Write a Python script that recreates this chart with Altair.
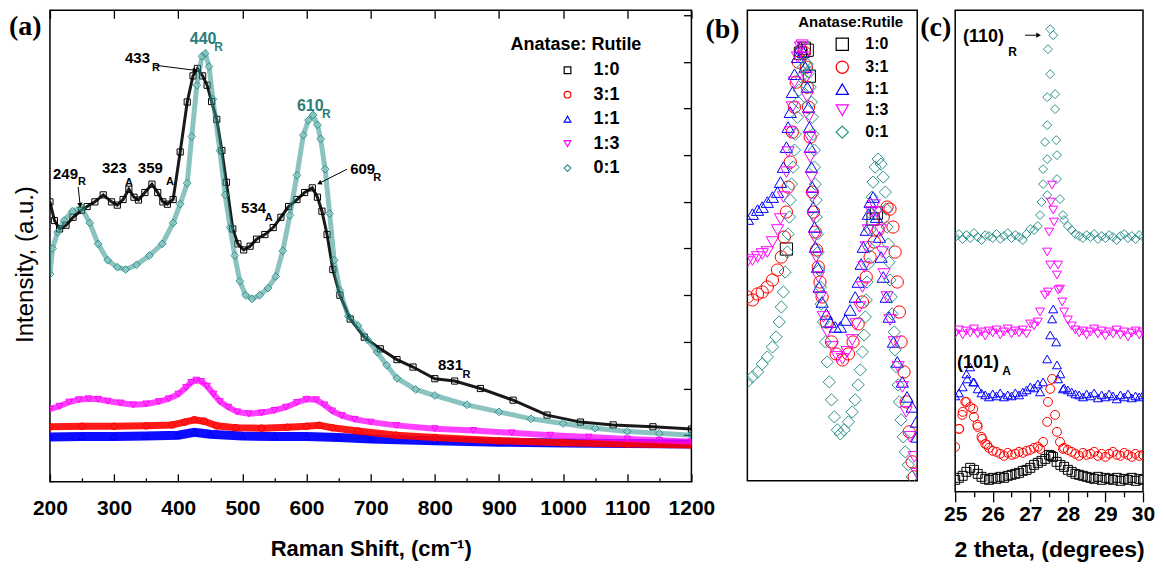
import math
import altair as alt
import pandas as pd

FONT = "Liberation Sans"
SERIF = "Liberation Serif"
SERIES = ["1:0", "3:1", "1:1", "1:3", "0:1"]
COLORS = ["#000000", "#ff0000", "#0000ff", "#ff00ff", "#2a918c"]
SHAPES = ["square", "circle", "triangle-up", "triangle-down", "diamond"]
TEAL_TEXT = "#2c7d79"

# ---------------- panel (a): Raman spectra, a.u. ----------------
A_TICKS = [200, 300, 400, 500, 600, 700, 800, 900, 1000, 1100, 1200]
A_MINOR = [250, 350, 450, 550, 650, 750, 850, 950, 1050, 1150]
A_YTICKS = [1, 2, 3, 4, 5, 6, 7, 8, 9, 10]

A10_X = [200, 207, 215, 225, 236, 249, 258, 270, 283, 296, 305, 314, 323, 331, 338, 348, 359, 368, 376, 383,
         392, 403, 414, 423, 430, 438, 445, 452, 460, 468, 475, 485, 493, 502, 512, 522, 535, 548, 560, 572,
         585, 597, 609, 617, 624, 632, 641, 652, 668, 690, 715, 741, 766, 800, 831, 871, 922, 975, 1027, 1078,
         1140, 1200]
A10_Y = [6.00, 5.60, 5.42, 5.50, 5.67, 5.82, 5.90, 6.00, 6.15, 6.00, 5.93, 6.05, 6.27, 6.10, 6.04, 6.20, 6.38, 6.20, 6.00, 5.95,
         6.05, 7.07, 8.14, 8.70, 8.86, 8.70, 8.50, 8.15, 7.77, 7.10, 6.42, 5.42, 5.10, 4.97, 5.05, 5.20, 5.30, 5.45, 5.67, 5.90,
         6.05, 6.20, 6.30, 6.10, 5.80, 5.30, 4.55, 4.00, 3.49, 3.10, 2.85, 2.62, 2.46, 2.21, 2.16, 2.00, 1.75, 1.43, 1.28, 1.22,
         1.18, 1.13]

A01_X = [200, 204, 212, 222, 235, 249, 262, 275, 290, 305, 318, 335, 355, 375, 392, 403, 414, 421, 429, 437,
         442, 448, 454, 465, 473, 481, 488, 496, 505, 515, 527, 540, 552, 563, 574, 585, 595, 603, 610, 617,
         622, 629, 636, 643, 652, 665, 680, 695, 710, 725, 741, 770, 800, 850, 900, 950, 1000, 1050, 1100, 1150,
         1200]
A01_Y = [4.45, 5.00, 5.35, 5.60, 5.80, 5.88, 5.55, 5.10, 4.75, 4.60, 4.55, 4.65, 4.85, 5.10, 5.55, 5.95, 6.40, 7.40, 8.50, 9.12,
         9.18, 8.90, 8.20, 7.10, 6.15, 5.45, 4.85, 4.30, 4.00, 3.92, 4.00, 4.15, 4.40, 4.95, 5.71, 6.57, 7.43, 7.75, 7.86, 7.65,
         7.35, 6.70, 5.75, 4.75, 4.10, 3.55, 3.35, 3.05, 2.78, 2.50, 2.22, 1.98, 1.85, 1.65, 1.50, 1.35, 1.25, 1.15, 1.08, 1.04,
         1.00]

A13_X = [200, 215, 230, 245, 260, 275, 290, 310, 330, 350, 370, 385, 400, 412, 420, 428, 436, 445, 455, 465,
         478, 492, 510, 530, 550, 568, 585, 600, 615, 628, 640, 655, 675, 700, 740, 800, 860, 920, 980, 1040,
         1100, 1150, 1200]
A13_Y = [1.56, 1.62, 1.71, 1.76, 1.78, 1.77, 1.73, 1.69, 1.65, 1.67, 1.72, 1.78, 1.88, 2.02, 2.13, 2.18, 2.15, 2.05, 1.88, 1.72,
         1.60, 1.50, 1.46, 1.48, 1.53, 1.60, 1.70, 1.77, 1.76, 1.65, 1.52, 1.42, 1.34, 1.28, 1.21, 1.14, 1.10, 1.05, 1.00, 0.96,
         0.92, 0.89, 0.86]

A31_X = [200, 250, 300, 350, 390, 410, 425, 440, 460, 490, 530, 570, 600, 620, 640, 680, 740, 800, 900, 1000, 1100, 1200]
A31_Y = [1.18, 1.19, 1.19, 1.20, 1.22, 1.28, 1.33, 1.30, 1.20, 1.16, 1.15, 1.17, 1.19, 1.21, 1.16, 1.09, 1.00, 0.95, 0.88, 0.84, 0.81, 0.79]

A11_X = [200, 250, 300, 350, 400, 425, 450, 500, 550, 600, 650, 700, 800, 900, 1000, 1100, 1200]
A11_Y = [0.96, 0.97, 0.97, 0.98, 1.00, 1.06, 1.02, 0.98, 0.97, 0.97, 0.95, 0.92, 0.88, 0.85, 0.83, 0.82, 0.81]

# peak labels (black) and their subscripts
A_LAB_X = [204.7, 281, 337, 317, 668, 498, 805]
A_LAB_Y = [6.60, 6.72, 6.72, 9.08, 6.70, 5.87, 2.51]
A_LAB_T = ["249", "323", "359", "433", "609", "534", "831"]
A_SUB_X = [243.7, 317, 381, 359, 704, 535, 843]
A_SUB_Y = [6.42, 6.40, 6.42, 8.87, 6.51, 5.65, 2.29]
A_SUB_T = ["R", "A", "A", "R", "R", "A", "R"]
# teal peak labels
A_TLAB_X = [418, 585]
A_TLAB_Y = [9.49, 8.05]
A_TLAB_T = ["440", "610"]
A_TSUB_X = [456, 624]
A_TSUB_Y = [9.31, 7.88]
A_TSUB_T = ["R", "R"]
# arrows
A_ARR_X1 = [363, 244, 663]
A_ARR_Y1 = [8.93, 6.32, 6.70]
A_ARR_X2 = [426, 247, 620]
A_ARR_Y2 = [8.82, 5.93, 6.40]

# ---------------- panel (b): normalised Raman 300-700 ----------------
B_TICKS = [300, 400, 500, 600, 700]

B01_X = [300, 312, 324, 335, 347, 359, 368, 375, 380, 385, 389, 394, 396, 399, 401, 404, 408, 411, 413, 418,
         420, 422, 427, 432, 436, 441, 446, 448, 451, 453, 455, 458, 458, 460, 462, 462, 465, 467, 469, 472,
         474, 479, 484, 488, 493, 498, 505, 512, 519, 528, 538, 547, 554, 561, 566, 571, 575, 578, 580, 582,
         585, 587, 589, 592, 594, 596, 601, 608, 615, 620, 625, 627, 629, 632, 634, 636, 639, 641, 646, 648,
         651, 655, 658, 662, 667, 672, 679, 688]
B01_Y = [99, 104, 109, 117, 124, 134, 144, 159, 174, 189, 209, 229, 247, 264, 281, 297, 314, 331, 347, 364,
         379, 391, 404, 414, 419, 417, 409, 394, 379, 364, 347, 331, 314, 297, 281, 264, 247, 229, 211, 194,
         177, 159, 139, 119, 99, 81, 64, 51, 47, 51, 59, 69, 81, 96, 111, 129, 146, 164, 181, 199,
         217, 234, 251, 267, 284, 299, 314, 322, 317, 304, 289, 272, 254, 237, 219, 201, 184, 167, 149, 131,
         114, 96, 79, 61, 44, 29, 16, 4]

B11_X = [300, 312, 324, 335, 347, 359, 371, 378, 385, 392, 396, 401, 406, 411, 418, 425, 432, 436, 441, 444,
         446, 448, 451, 453, 455, 458, 460, 465, 469, 476, 486, 495, 507, 519, 531, 542, 554, 561, 568, 573,
         580, 585, 589, 596, 604, 611, 615, 620, 627, 634, 644, 653, 665, 676, 688, 698, 700]
B11_Y = [262, 267, 271, 274, 279, 284, 289, 299, 314, 334, 354, 369, 389, 407, 424, 434, 429, 414, 394, 374,
         354, 334, 314, 294, 274, 254, 234, 214, 194, 179, 167, 159, 154, 154, 161, 171, 184, 199, 217, 234,
         251, 267, 279, 284, 264, 244, 224, 204, 184, 164, 139, 119, 99, 84, 74, 59, 44]

B13_X = [300, 312, 324, 335, 347, 359, 371, 378, 385, 392, 396, 401, 406, 411, 418, 425, 429, 434, 439, 441,
         444, 446, 448, 451, 453, 455, 458, 462, 467, 472, 479, 488, 500, 512, 524, 535, 547, 556, 564, 571,
         575, 580, 585, 592, 599, 606, 613, 618, 622, 629, 636, 646, 655, 665, 674, 683, 693, 700]
B13_Y = [219, 221, 224, 227, 229, 239, 251, 262, 284, 309, 329, 349, 374, 399, 424, 434, 436, 424, 404, 384,
         364, 344, 324, 304, 284, 264, 244, 224, 204, 184, 164, 149, 134, 124, 122, 129, 141, 157, 174, 194,
         214, 234, 251, 269, 276, 269, 251, 229, 207, 184, 161, 139, 114, 94, 69, 44, 24, 7]

B31_X = [300, 312, 324, 335, 347, 359, 371, 380, 387, 392, 396, 401, 406, 411, 415, 420, 427, 434, 439, 441,
         444, 448, 453, 456, 460, 463, 467, 471, 476, 486, 498, 509, 524, 538, 549, 561, 571, 580, 589, 599,
         608, 620, 629, 636, 643, 648, 653, 658, 662, 669, 674, 681, 688, 693]
B31_Y = [184, 181, 187, 189, 194, 201, 211, 224, 244, 269, 294, 319, 349, 374, 399, 419, 431, 429, 414, 394,
         374, 344, 289, 269, 249, 231, 214, 199, 184, 159, 139, 127, 121, 127, 139, 157, 179, 204, 224, 239,
         251, 264, 274, 272, 254, 229, 199, 169, 139, 109, 79, 49, 19, 4]

# 1:0 in (b) is buried beneath the other spectra; only these few squares show
B10_X = [392, 425, 434, 441, 446, 596, 604]
B10_Y = [232, 428, 433, 431, 405, 262, 268]

# ---------------- panel (c): XRD 25-30 deg ----------------
C_TICKS = [25, 26, 27, 28, 29, 30]
C_MINOR = [25.5, 26.5, 27.5, 28.5, 29.5]
C_XL = [25.0, 25.1, 25.2, 25.3, 25.4, 25.5, 25.6, 25.7, 25.8, 25.9, 26.0, 26.1, 26.2, 26.3, 26.4, 26.5,
        26.6, 26.7, 26.8, 26.9, 27.0, 27.1, 27.2]
C_XR = [27.9, 28.0, 28.1, 28.2, 28.3, 28.4, 28.5, 28.6, 28.7, 28.8, 28.9, 29.0, 29.1, 29.2, 29.3, 29.4,
        29.5, 29.6, 29.7, 29.8, 29.9, 30.0]

C01_L = [255, 258, 253, 257, 254, 259, 255, 252, 257, 256, 254, 258, 253, 256, 259, 254, 257, 255, 252, 258, 263, 262, 266]
C01_PX = [27.26, 27.30, 27.34, 27.34, 27.39, 27.45, 27.45, 27.45, 27.45, 27.47, 27.53, 27.53, 27.61, 27.66, 27.66,
          27.69, 27.71, 27.71, 27.79, 27.87]
C01_PY = [277, 290, 308, 323, 350, 297, 333, 367, 395, 443, 418, 463, 457, 398, 383, 352, 337, 313, 293, 277]
C01_R = [272, 266, 262, 258, 256, 254, 257, 255, 258, 253, 256, 254, 257, 255, 252, 256, 258, 254, 256, 253, 257, 255]

C13_L = [158, 162, 157, 161, 159, 163, 158, 160, 156, 161, 159, 162, 157, 160, 163, 158, 161, 159, 162, 158, 168, 166, 170]
C13_PX = [27.26, 27.39, 27.45, 27.47, 27.50, 27.53, 27.55, 27.58, 27.61, 27.63, 27.71, 27.74, 27.74, 27.79, 27.85]
C13_PY = [180, 197, 240, 200, 260, 227, 290, 307, 282, 270, 217, 227, 202, 203, 190]
C13_R = [180, 172, 166, 162, 159, 161, 157, 160, 163, 158, 161, 156, 160, 158, 162, 157, 160, 155, 159, 161, 157, 160]

C11_L = [96, 99, 105, 118, 125, 110, 103, 99, 97, 95, 98, 96, 99, 95, 97, 96, 99, 97, 100, 102, 105, 104, 108]
C11_PX = [25.32, 25.48, 27.26, 27.34, 27.45, 27.53, 27.58, 27.61, 27.69, 27.71, 27.74, 27.80, 27.87]
C11_PY = [113, 110, 100, 110, 133, 157, 173, 183, 150, 127, 113, 118, 103]
C11_R = [104, 102, 100, 98, 97, 95, 98, 96, 99, 94, 97, 95, 98, 96, 93, 97, 95, 98, 94, 96, 95, 97]

C31_L = [45, 63, 80, 90, 85, 75, 65, 55, 48, 44, 41, 40, 38, 36, 39, 37, 38, 40, 39, 41, 42, 44, 45]
C31_PX = [25.11, 25.19, 25.27, 25.48, 25.59, 25.72, 25.85, 27.26, 27.34, 27.45, 27.47, 27.53, 27.58, 27.66,
          27.71, 27.79, 27.87]
C31_PY = [63, 77, 90, 83, 67, 53, 47, 43, 50, 70, 90, 103, 113, 77, 60, 50, 43]
C31_R = [44, 42, 40, 38, 36, 39, 37, 38, 40, 36, 38, 35, 38, 40, 37, 36, 39, 37, 35, 38, 36, 37]

C10_L = [12, 14, 16, 20, 24, 22, 18, 15, 13, 12, 14, 13, 15, 14, 16, 17, 18, 19, 21, 22, 24, 27, 29]
C10_PX = [27.30, 27.40, 27.50, 27.55, 27.60, 27.70, 27.80]
C10_PY = [31, 33, 37, 36, 35, 30, 27]
C10_R = [25, 22, 20, 18, 17, 16, 15, 14, 13, 15, 12, 14, 13, 12, 14, 11, 13, 12, 14, 11, 13, 12]

C_LAB_X = [25.21, 25.05]
C_LAB_Y = [455, 129]
C_LAB_T = ["(110)", "(101)"]
C_SUB_X = [26.41, 26.25]
C_SUB_Y = [440, 121]
C_SUB_T = ["R", "A"]
C_ARR_X1 = [26.86]
C_ARR_Y1 = [457]
C_ARR_X2 = [27.22]
C_ARR_Y2 = [457]

# ---------------------------------------------------------------------
COL = dict(zip(SERIES, COLORS))
SHP = dict(zip(SERIES, SHAPES))
CSCALE = alt.Scale(domain=SERIES, range=COLORS)
SSCALE = alt.Scale(domain=SERIES, range=SHAPES)


def frame(xs, ys, s):
    return pd.DataFrame({"x": xs, "y": ys, "s": [s] * len(xs)})


def one_row(text):
    return pd.DataFrame({"t": [text]})


def text_df(xs, ys, ts):
    return pd.DataFrame({"x": xs, "y": ys, "t": ts})


def arrow_df(x1, y1, x2, y2, pxx, pxy):
    ang = []
    for a, b, c, d in zip(x1, y1, x2, y2):
        dx = (c - a) * pxx
        dy = -(d - b) * pxy
        g = math.degrees(math.atan2(dx, -dy))
        ang.append(g % 360)
    return pd.DataFrame({"x": x1, "y": y1, "x2": x2, "y2": y2, "ang": ang})


def letter(t, x, y):
    return alt.Chart(one_row(t)).mark_text(
        font=SERIF, fontSize=28, fontWeight="bold", align="left", baseline="middle", color="black"
    ).encode(x=alt.value(x), y=alt.value(y), text="t:N")


def title_text(t, x, y, size):
    return alt.Chart(one_row(t)).mark_text(
        font=FONT, fontSize=size, fontWeight="bold", align="left", baseline="middle", color="black"
    ).encode(x=alt.value(x), y=alt.value(y), text="t:N")


def labels(df, xs, ys, size, color):
    return alt.Chart(df).mark_text(
        font=FONT, fontSize=size, fontWeight="bold", align="left", baseline="middle", color=color
    ).encode(x=alt.X("x:Q", scale=xs, axis=None), y=alt.Y("y:Q", scale=ys, axis=None), text="t:N")


def arrows(df, xs, ys):
    rule = alt.Chart(df).mark_rule(color="black", strokeWidth=1).encode(
        x=alt.X("x:Q", scale=xs, axis=None), y=alt.Y("y:Q", scale=ys, axis=None), x2="x2:Q", y2="y2:Q")
    head = alt.Chart(df).mark_point(shape="triangle-up", filled=True, color="black", size=28, opacity=1).encode(
        x=alt.X("x2:Q", scale=xs, axis=None), y=alt.Y("y2:Q", scale=ys, axis=None),
        angle=alt.Angle("ang:Q", scale=None))
    return rule, head


TICKSTYLE = dict(tickColor="black", tickWidth=1.3, domain=False, grid=False)
LABSTYLE = dict(labelFont=FONT, labelFontWeight="bold", labelColor="black", labelFlush=False)
TITSTYLE = dict(titleFont=FONT, titleFontWeight="bold", titleColor="black")

# ---------------- build (a) ----------------
XA = alt.Scale(domain=[200, 1200], nice=False, zero=False)
YA = alt.Scale(domain=[0, 10.107], nice=False, zero=False)

AX_A_BOTTOM = alt.Axis(orient="bottom", values=A_TICKS, tickSize=8, offset=-8, labelPadding=16,
                       labelFontSize=21, format="d", title="Raman Shift, (cm⁻¹)", titleFontSize=22,
                       titlePadding=20, **TICKSTYLE, **LABSTYLE, **TITSTYLE)
AX_A_TOP = alt.Axis(orient="top", values=A_TICKS, tickSize=8, offset=-8, labels=False, title=None, **TICKSTYLE)
AX_A_MINOR = alt.Axis(orient="bottom", values=A_MINOR, tickSize=4, offset=-4, labels=False, title=None, **TICKSTYLE)
AX_A_RIGHT = alt.Axis(orient="right", values=A_YTICKS, tickSize=8, offset=-8, labels=False, title=None, **TICKSTYLE)
AX_A_LEFT = alt.Axis(orient="left", ticks=False, labels=False, domain=False, grid=False,
                     title="Intensity, (a.u.)", titleFont=FONT, titleFontSize=24, titleFontWeight="normal",
                     titleColor="black", titlePadding=12, titleY=254)

LEG_A = alt.Legend(title=None, orient="none", legendX=509, legendY=51, direction="vertical",
                   labelFont=FONT, labelFontSize=18, labelFontWeight="bold", labelColor="black",
                   symbolSize=45, symbolStrokeWidth=1.2, rowPadding=6.5, labelOffset=17)

A_DATA = {"1:0": (A10_X, A10_Y), "3:1": (A31_X, A31_Y), "1:1": (A11_X, A11_Y),
          "1:3": (A13_X, A13_Y), "0:1": (A01_X, A01_Y)}
A_ORDER = ["1:1", "3:1", "1:3", "1:0", "0:1"]
A_LINE = {"1:1": (9, 0.95), "3:1": (7, 0.9), "1:3": (6, 0.75), "1:0": (3, 0.9), "0:1": (5, 0.55)}
A_SIZE = {"1:1": 45, "3:1": 45, "1:3": 45, "1:0": 38, "0:1": 60}
A_LINE_XAX = {"0:1": AX_A_TOP, "3:1": AX_A_MINOR}
A_LINE_YAX = {"1:3": AX_A_RIGHT}

layers_a = []
for s in A_ORDER:
    df = frame(*A_DATA[s], s)
    w, op = A_LINE[s]
    layers_a.append(alt.Chart(df).mark_line(color=COL[s], strokeWidth=w, opacity=op, clip=True).encode(
        x=alt.X("x:Q", scale=XA, axis=A_LINE_XAX.get(s)),
        y=alt.Y("y:Q", scale=YA, axis=A_LINE_YAX.get(s))))
    first = s == A_ORDER[0]
    layers_a.append(alt.Chart(df).mark_point(filled=False, size=A_SIZE[s], strokeWidth=1, opacity=1, clip=True).encode(
        x=alt.X("x:Q", scale=XA, axis=AX_A_BOTTOM if first else None),
        y=alt.Y("y:Q", scale=YA, axis=AX_A_LEFT if first else None),
        color=alt.Color("s:N", scale=CSCALE, legend=LEG_A),
        shape=alt.Shape("s:N", scale=SSCALE, legend=LEG_A)))

layers_a.append(labels(text_df(A_LAB_X, A_LAB_Y, A_LAB_T), XA, YA, 15, "black"))
layers_a.append(labels(text_df(A_SUB_X, A_SUB_Y, A_SUB_T), XA, YA, 11, "black"))
layers_a.append(labels(text_df(A_TLAB_X, A_TLAB_Y, A_TLAB_T), XA, YA, 16, TEAL_TEXT))
layers_a.append(labels(text_df(A_TSUB_X, A_TSUB_Y, A_TSUB_T), XA, YA, 12, TEAL_TEXT))
layers_a.extend(arrows(arrow_df(A_ARR_X1, A_ARR_Y1, A_ARR_X2, A_ARR_Y2, 0.642, 46.7), XA, YA))
layers_a.append(title_text("Anatase: Rutile", 461, 35, 18))
layers_a.append(letter("(a)", -41, 17))

chart_a = alt.layer(*layers_a).resolve_axis(x="independent", y="independent").properties(width=642, height=472)

# ---------------- build (b) ----------------
XB = alt.Scale(domain=[300, 700], nice=False, zero=False)
YB = alt.Scale(domain=[0, 471], nice=False, zero=False)
AX_B = alt.Axis(orient="bottom", values=B_TICKS, tickSize=7, labelPadding=2, labelFontSize=21,
                labelExpr="datum.value == 400 || datum.value == 600 ? datum.label : ''",
                title="Raman Shift, (cm⁻¹)", titleFontSize=22, titlePadding=28,
                **TICKSTYLE, **LABSTYLE, **TITSTYLE)
LEG_B = alt.Legend(title=None, orient="none", legendX=87, legendY=26, direction="vertical",
                   labelFont=FONT, labelFontSize=16, labelFontWeight="bold", labelColor="black",
                   symbolSize=150, symbolStrokeWidth=1.2, rowPadding=5, labelOffset=15)
B_DATA = {"1:0": (B10_X, B10_Y), "3:1": (B31_X, B31_Y), "1:1": (B11_X, B11_Y),
          "1:3": (B13_X, B13_Y), "0:1": (B01_X, B01_Y)}
B_ORDER = ["1:0", "3:1", "1:1", "1:3", "0:1"]
layers_b = []
for s in B_ORDER:
    first = s == B_ORDER[0]
    layers_b.append(alt.Chart(frame(*B_DATA[s], s)).mark_point(
        filled=False, size=150, strokeWidth=1, opacity=1, clip=True).encode(
        x=alt.X("x:Q", scale=XB, axis=AX_B if first else None),
        y=alt.Y("y:Q", scale=YB, axis=None),
        color=alt.Color("s:N", scale=CSCALE, legend=LEG_B),
        shape=alt.Shape("s:N", scale=SSCALE, legend=LEG_B)))
layers_b.append(title_text("Anatase:Rutile", 51, 12, 15))
layers_b.append(letter("(b)", -42, 20))
chart_b = alt.layer(*layers_b).properties(width=170, height=471)

# ---------------- build (c) ----------------
XC = alt.Scale(domain=[25, 30], nice=False, zero=False)
YC = alt.Scale(domain=[0, 482], nice=False, zero=False)
AX_C = alt.Axis(orient="bottom", values=C_TICKS, tickSize=10, labelPadding=2, labelFontSize=21, format="d",
                title="2 theta, (degrees)", titleFontSize=23, titlePadding=14,
                **TICKSTYLE, **LABSTYLE, **TITSTYLE)
AX_C_MINOR = alt.Axis(orient="bottom", values=C_MINOR, tickSize=5, labels=False, title=None, **TICKSTYLE)
C_DATA = {
    "1:0": (C_XL + C10_PX + C_XR, C10_L + C10_PY + C10_R),
    "3:1": (C_XL + C31_PX + C_XR, C31_L + C31_PY + C31_R),
    "1:1": (C_XL + C11_PX + C_XR, C11_L + C11_PY + C11_R),
    "1:3": (C_XL + C13_PX + C_XR, C13_L + C13_PY + C13_R),
    "0:1": (C_XL + C01_PX + C_XR, C01_L + C01_PY + C01_R),
}
C_ORDER = ["0:1", "1:3", "1:1", "3:1", "1:0"]
layers_c = []
for s in C_ORDER:
    first = s == C_ORDER[0]
    layers_c.append(alt.Chart(frame(*C_DATA[s], s)).mark_point(
        filled=False, size=80, strokeWidth=1, opacity=1, clip=True, color=COL[s], shape=SHP[s]).encode(
        x=alt.X("x:Q", scale=XC, axis=AX_C if first else None),
        y=alt.Y("y:Q", scale=YC, axis=None)))
layers_c.append(labels(text_df(C_LAB_X, C_LAB_Y, C_LAB_T), XC, YC, 18, "black"))
layers_c.append(labels(text_df(C_SUB_X, C_SUB_Y, C_SUB_T), XC, YC, 12, "black"))
c_rule, c_head = arrows(arrow_df(C_ARR_X1, C_ARR_Y1, C_ARR_X2, C_ARR_Y2, 37.6, 1.0), XC, YC)
c_rule = c_rule.encode(x=alt.X("x:Q", scale=XC, axis=AX_C_MINOR))
layers_c.extend([c_rule, c_head])
layers_c.append(letter("(c)", -35, 18))
chart_c = alt.layer(*layers_c).resolve_axis(x="independent").properties(width=188, height=482)

inner = alt.hconcat(chart_b, chart_c, spacing=38, bounds="flush").resolve_scale(
    color="independent", shape="independent")
chart = alt.hconcat(chart_a, inner, spacing=56, bounds="flush").resolve_scale(
    color="independent", shape="independent").properties(
    padding={"left": 0, "top": 0, "right": 0, "bottom": 0}
).configure(font=FONT).configure_view(stroke="black", strokeWidth=1.5)

chart.save("out.html", embed_options={"renderer": "svg", "actions": False})
